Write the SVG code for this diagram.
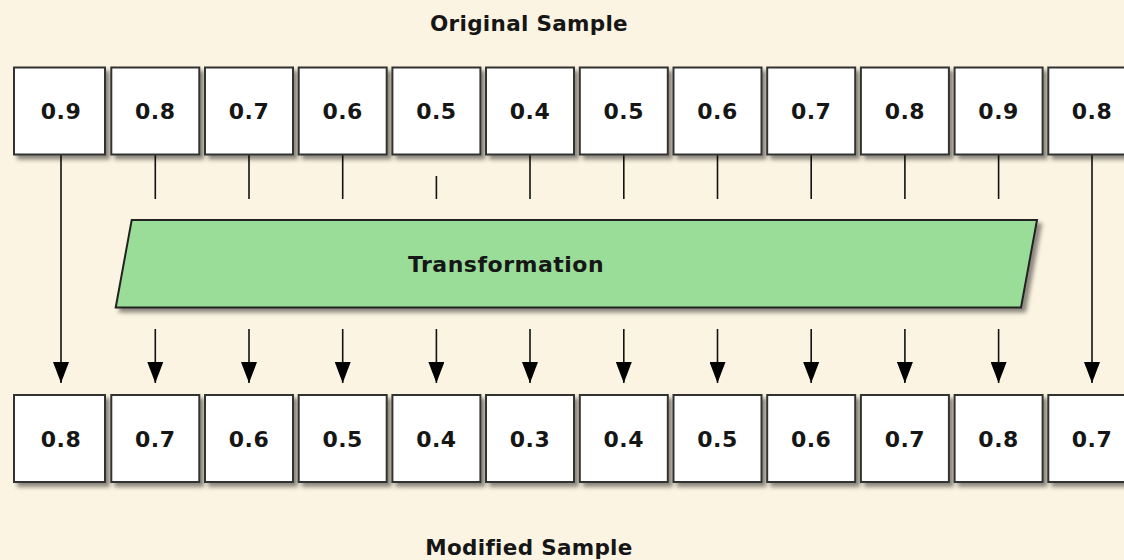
<svg xmlns="http://www.w3.org/2000/svg" width="1124" height="560" viewBox="0 0 1124 560">
<defs>
<style>
.bg{fill:#fcf4e2}
.box{fill:#ffffff;stroke:#333333;stroke-width:2;filter:url(#sh)}
.lbl{font-family:"DejaVu Sans",sans-serif;font-weight:bold;font-size:22px;fill:#161616;text-anchor:middle;letter-spacing:0.5px}
.ttl{font-family:"DejaVu Sans",sans-serif;font-weight:bold;font-size:21.5px;fill:#161616;text-anchor:middle;letter-spacing:0.3px}
.ln{stroke:#111111;stroke-width:1.6;fill:none}
.ar{stroke:#111111;stroke-width:1.6;fill:none;marker-end:url(#ah)}
.tr{fill:#99dd99;stroke:#222222;stroke-width:2;filter:url(#sh)}
</style>
<filter id="sh" x="-10%" y="-10%" width="130%" height="140%">
<feDropShadow dx="4" dy="4" stdDeviation="2" flood-color="#000000" flood-opacity="0.45"/>
</filter>
<marker id="ah" markerUnits="userSpaceOnUse" markerWidth="21" markerHeight="16" refX="21" refY="8" orient="auto">
<path d="M0,0 L21,8 L0,16 z" fill="#000000"/>
</marker>
</defs>
<rect class="bg" x="0" y="0" width="1124" height="560"/>
<text class="ttl" x="529" y="31">Original Sample</text>
<text class="ttl" x="529" y="555">Modified Sample</text>

<g id="connectors">
<line class="ar" x1="61" y1="155" x2="61" y2="383"/>
<line class="ar" x1="1092" y1="155" x2="1092" y2="383"/>
<line class="ln" x1="155.3" y1="155" x2="155.3" y2="199"/>
<line class="ln" x1="249" y1="155" x2="249" y2="199"/>
<line class="ln" x1="342.7" y1="155" x2="342.7" y2="199"/>
<line class="ln" x1="436.4" y1="176" x2="436.4" y2="199"/>
<line class="ln" x1="530" y1="155" x2="530" y2="199"/>
<line class="ln" x1="623.8" y1="155" x2="623.8" y2="199"/>
<line class="ln" x1="717.5" y1="155" x2="717.5" y2="199"/>
<line class="ln" x1="811.2" y1="155" x2="811.2" y2="199"/>
<line class="ln" x1="904.9" y1="155" x2="904.9" y2="199"/>
<line class="ln" x1="998.6" y1="155" x2="998.6" y2="199"/>
<line class="ar" x1="155.3" y1="329" x2="155.3" y2="383"/>
<line class="ar" x1="249" y1="329" x2="249" y2="383"/>
<line class="ar" x1="342.7" y1="329" x2="342.7" y2="383"/>
<line class="ar" x1="436.4" y1="329" x2="436.4" y2="383"/>
<line class="ar" x1="530" y1="329" x2="530" y2="383"/>
<line class="ar" x1="623.8" y1="329" x2="623.8" y2="383"/>
<line class="ar" x1="717.5" y1="329" x2="717.5" y2="383"/>
<line class="ar" x1="811.2" y1="329" x2="811.2" y2="383"/>
<line class="ar" x1="904.9" y1="329" x2="904.9" y2="383"/>
<line class="ar" x1="998.6" y1="329" x2="998.6" y2="383"/>
</g>

<g id="transformation">
<polygon class="tr" points="131.7,220 1037,220 1021,307.5 115.7,307.5"/>
<text class="lbl" x="506" y="271.5">Transformation</text>
</g>

<g id="o0"><rect class="box" x="14" y="67.5" width="91" height="87"/><text class="lbl" x="61" y="119">0.9</text></g>
<g id="o1"><rect class="box" x="111.3" y="67.5" width="88" height="87"/><text class="lbl" x="155.3" y="119">0.8</text></g>
<g id="o2"><rect class="box" x="205" y="67.5" width="88" height="87"/><text class="lbl" x="249" y="119">0.7</text></g>
<g id="o3"><rect class="box" x="298.7" y="67.5" width="88" height="87"/><text class="lbl" x="342.7" y="119">0.6</text></g>
<g id="o4"><rect class="box" x="392.4" y="67.5" width="88" height="87"/><text class="lbl" x="436.4" y="119">0.5</text></g>
<g id="o5"><rect class="box" x="486" y="67.5" width="88" height="87"/><text class="lbl" x="530" y="119">0.4</text></g>
<g id="o6"><rect class="box" x="579.8" y="67.5" width="88" height="87"/><text class="lbl" x="623.8" y="119">0.5</text></g>
<g id="o7"><rect class="box" x="673.5" y="67.5" width="88" height="87"/><text class="lbl" x="717.5" y="119">0.6</text></g>
<g id="o8"><rect class="box" x="767.2" y="67.5" width="88" height="87"/><text class="lbl" x="811.2" y="119">0.7</text></g>
<g id="o9"><rect class="box" x="860.9" y="67.5" width="88" height="87"/><text class="lbl" x="904.9" y="119">0.8</text></g>
<g id="o10"><rect class="box" x="954.6" y="67.5" width="88" height="87"/><text class="lbl" x="998.6" y="119">0.9</text></g>
<g id="o11"><rect class="box" x="1048.3" y="67.5" width="88" height="87"/><text class="lbl" x="1092" y="119">0.8</text></g>

<g id="m0"><rect class="box" x="14" y="395" width="91" height="87"/><text class="lbl" x="61" y="446.5">0.8</text></g>
<g id="m1"><rect class="box" x="111.3" y="395" width="88" height="87"/><text class="lbl" x="155.3" y="446.5">0.7</text></g>
<g id="m2"><rect class="box" x="205" y="395" width="88" height="87"/><text class="lbl" x="249" y="446.5">0.6</text></g>
<g id="m3"><rect class="box" x="298.7" y="395" width="88" height="87"/><text class="lbl" x="342.7" y="446.5">0.5</text></g>
<g id="m4"><rect class="box" x="392.4" y="395" width="88" height="87"/><text class="lbl" x="436.4" y="446.5">0.4</text></g>
<g id="m5"><rect class="box" x="486" y="395" width="88" height="87"/><text class="lbl" x="530" y="446.5">0.3</text></g>
<g id="m6"><rect class="box" x="579.8" y="395" width="88" height="87"/><text class="lbl" x="623.8" y="446.5">0.4</text></g>
<g id="m7"><rect class="box" x="673.5" y="395" width="88" height="87"/><text class="lbl" x="717.5" y="446.5">0.5</text></g>
<g id="m8"><rect class="box" x="767.2" y="395" width="88" height="87"/><text class="lbl" x="811.2" y="446.5">0.6</text></g>
<g id="m9"><rect class="box" x="860.9" y="395" width="88" height="87"/><text class="lbl" x="904.9" y="446.5">0.7</text></g>
<g id="m10"><rect class="box" x="954.6" y="395" width="88" height="87"/><text class="lbl" x="998.6" y="446.5">0.8</text></g>
<g id="m11"><rect class="box" x="1048.3" y="395" width="88" height="87"/><text class="lbl" x="1092" y="446.5">0.7</text></g>
</svg>
